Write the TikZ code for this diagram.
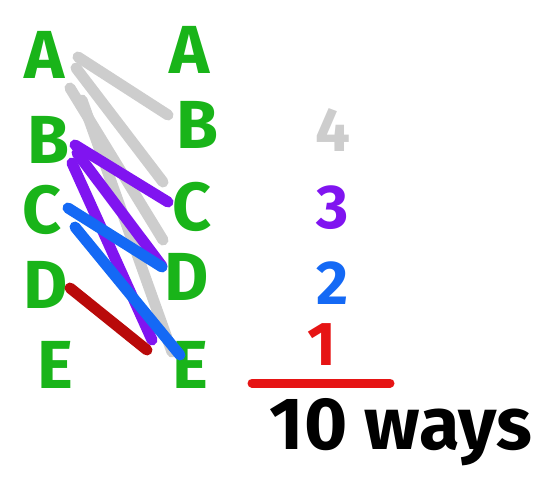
\documentclass[tikz,border=0pt]{standalone}
\usepackage{fontspec}
\setmainfont{Fira Sans}
\definecolor{lettergreen}{RGB}{25,180,25}
\definecolor{pairgray}{RGB}{205,205,205}
\definecolor{pairpurple}{RGB}{128,20,240}
\definecolor{pairblue}{RGB}{20,105,245}
\definecolor{pairred}{RGB}{185,10,10}
\definecolor{linered}{RGB}{230,20,20}
\tikzset{
  letter/.style={text=lettergreen, font=\fontsize{68}{68}\selectfont\bfseries, inner sep=0pt},
  count/.style={font=\fontsize{62}{62}\selectfont\bfseries, inner sep=0pt},
  pair/.style={line width=11pt, line cap=round},
}
\begin{document}
\begin{tikzpicture}[x=1pt,y=-1pt]
\useasboundingbox (0,0) rectangle (550,485);
% two columns of letters
\node[letter] (lA) at (45,55) {A};
\node[letter] (lB) at (48,140) {B};
\node[letter] (lC) at (42,210) {C};
\node[letter] (lD) at (46,285) {D};
\node[letter] (lE) at (55,365) {E};
\node[letter] (rA) at (190,50) {A};
\node[letter] (rB) at (197,125) {B};
\node[letter] (rC) at (192,207) {C};
\node[letter] (rD) at (187,277) {D};
\node[letter] (rE) at (190,365) {E};
% end points of the pairings
\coordinate (a1) at (78,57);  \coordinate (b1) at (168,115);
\coordinate (a2) at (76,68);  \coordinate (c1) at (163,182);
\coordinate (a3) at (70,88);  \coordinate (d1) at (163,240);
\coordinate (a4) at (82,100); \coordinate (e1) at (172,352);
\coordinate (b2) at (75,145); \coordinate (c2) at (168,202);
\coordinate (b3) at (77,153); \coordinate (d2) at (162,266);
\coordinate (b4) at (72,163); \coordinate (e2) at (152,340);
\coordinate (c3) at (68,208); \coordinate (d3) at (162,267);
\coordinate (c4) at (75,227); \coordinate (e3) at (180,355);
\coordinate (d4) at (70,288); \coordinate (e4) at (147,350);
% pairings starting at A
\draw[pair, pairgray] (a1) -- (b1);
\draw[pair, pairgray] (a2) -- (c1);
\draw[pair, pairgray] (a3) -- (d1);
\draw[pair, pairgray] (a4) -- (e1);
% pairings starting at B
\draw[pair, pairpurple] (b2) -- (c2);
\draw[pair, pairpurple] (b3) -- (d2);
\draw[pair, pairpurple] (b4) -- (e2);
% pairings starting at C
\draw[pair, pairblue] (c3) -- (d3);
\draw[pair, pairblue] (c4) -- (e3);
% pairing starting at D
\draw[pair, pairred] (d4) -- (e4);
% the sum
\node[count, text=pairgray] (n4) at (333,130) {4};
\node[count, text=pairpurple] (n3) at (333,208) {3};
\node[count, text=pairblue] (n2) at (333,283) {2};
\node[count, text=linered] (n1) at (322,345) {1};
\coordinate (s1) at (252,383);
\coordinate (s2) at (390,383);
\draw[line width=9pt, linered, line cap=round] (s1) -- (s2);
\node[font=\fontsize{74}{74}\selectfont\bfseries, inner sep=0pt] (total) at (401,432) {10 ways};
\end{tikzpicture}
\end{document}
